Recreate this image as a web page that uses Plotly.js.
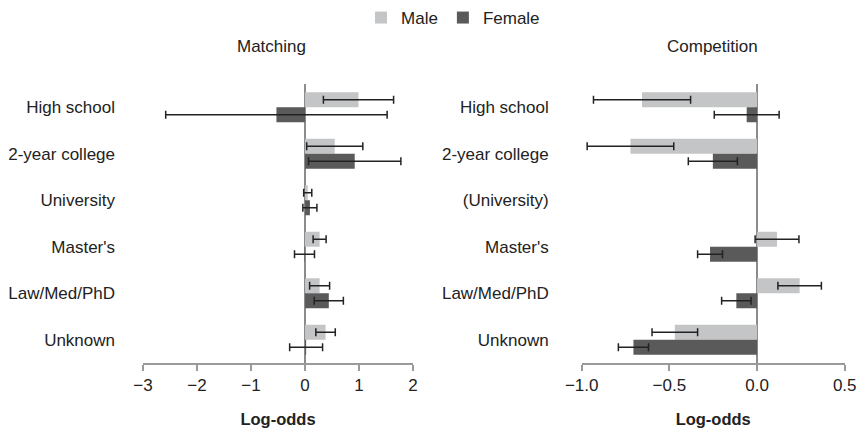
<!DOCTYPE html>
<html>
<head>
<meta charset="utf-8">
<script src="https://cdn.plot.ly/plotly-3.0.1.min.js"></script>
<style>html,body{margin:0;padding:0;background:#fff;}#chart{width:858px;height:431px;}</style>
</head>
<body>
<div id="chart"></div>
<script>
// Categories
var matchCategories = ["High school", "2-year college", "University", "Master's", "Law/Med/PhD", "Unknown"];
var compCategories = ["High school", "2-year college", "(University)", "Master's", "Law/Med/PhD", "Unknown"];

// Matching panel (log-odds) with error half-widths
var matchMale = [0.99, 0.55, 0.05, 0.27, 0.27, 0.38];
var matchMaleErr = [0.65, 0.52, 0.075, 0.12, 0.185, 0.18];
var matchFemale = [-0.53, 0.92, 0.09, -0.01, 0.44, 0.02];
var matchFemaleErr = [2.05, 0.855, 0.13, 0.185, 0.27, 0.305];

// Competition panel (log-odds) with error half-widths
var compMale = [-0.656, -0.722, null, 0.114, 0.243, -0.469];
var compMaleErr = [0.277, 0.247, null, 0.125, 0.124, 0.13];
var compFemale = [-0.059, -0.252, null, -0.268, -0.118, -0.705];
var compFemaleErr = [0.185, 0.14, null, 0.071, 0.084, 0.086];

var maleColor = "#c4c5c7";
var femaleColor = "#5a5a5a";
var errStyle = function (arr) {
  return {type: "data", array: arr, visible: true, color: "#222222", thickness: 1.5, width: 4};
};

var traces = [
  {type: "bar", orientation: "h", name: "Male", y: matchCategories, x: matchMale,
   error_x: errStyle(matchMaleErr), marker: {color: maleColor}, xaxis: "x", yaxis: "y", legendgroup: "m"},
  {type: "bar", orientation: "h", name: "Female", y: matchCategories, x: matchFemale,
   error_x: errStyle(matchFemaleErr), marker: {color: femaleColor}, xaxis: "x", yaxis: "y", legendgroup: "f"},
  {type: "bar", orientation: "h", name: "Male", y: compCategories, x: compMale,
   error_x: errStyle(compMaleErr), marker: {color: maleColor}, xaxis: "x2", yaxis: "y2", legendgroup: "m", showlegend: false},
  {type: "bar", orientation: "h", name: "Female", y: compCategories, x: compFemale,
   error_x: errStyle(compFemaleErr), marker: {color: femaleColor}, xaxis: "x2", yaxis: "y2", legendgroup: "f", showlegend: false}
];

var fontFam = "'Liberation Sans', Arial, Helvetica, sans-serif";
var axisGray = "#9a9a9a";

var xCommon = {
  showgrid: false, zeroline: true, zerolinecolor: "#8c8c8c", zerolinewidth: 2,
  showline: true, linecolor: axisGray, linewidth: 2,
  ticks: "outside", ticklen: 6, tickwidth: 2, tickcolor: axisGray,
  tickfont: {size: 17, color: "#222222"}, fixedrange: true
};

var layout = {
  width: 858, height: 431,
  margin: {l: 0, r: 0, t: 83, b: 68},
  paper_bgcolor: "#ffffff", plot_bgcolor: "#ffffff",
  font: {family: fontFam, size: 17, color: "#222222"},
  barmode: "group", bargap: 0.355, bargroupgap: 0,
  showlegend: true,
  legend: {orientation: "h", x: 0.528, xanchor: "center", y: 1.235, yanchor: "middle",
           font: {size: 17}, itemwidth: 30, traceorder: "normal"},
  xaxis: Object.assign({}, xCommon, {domain: [0.1667, 0.4814], range: [-3, 2], dtick: 1, tick0: 0,
    title: {text: "<b>Log-odds</b>", font: {size: 16.5}, standoff: 19}}),
  xaxis2: Object.assign({}, xCommon, {domain: [0.678, 0.9845], range: [-1, 0.5], dtick: 0.5, tick0: 0, tickformat: ".1f",
    title: {text: "<b>Log-odds</b>", font: {size: 16.5}, standoff: 19}}),
  yaxis: {anchor: "x", autorange: "reversed", showgrid: false, zeroline: false, showline: false,
    ticks: "", ticklabelstandoff: 27, tickfont: {size: 17}, fixedrange: true},
  yaxis2: {anchor: "x2", autorange: "reversed", showgrid: false, zeroline: false, showline: false,
    ticks: "", ticklabelstandoff: 32, tickfont: {size: 17}, fixedrange: true},
  annotations: [
    {text: "Matching", xref: "paper", yref: "paper", x: 0.316, y: 1.136, xanchor: "center", yanchor: "middle",
     showarrow: false, font: {size: 17}},
    {text: "Competition", xref: "paper", yref: "paper", x: 0.83, y: 1.136, xanchor: "center", yanchor: "middle",
     showarrow: false, font: {size: 17}}
  ]
};

Plotly.newPlot("chart", traces, layout, {displayModeBar: false, staticPlot: true});
</script>
</body>
</html>
